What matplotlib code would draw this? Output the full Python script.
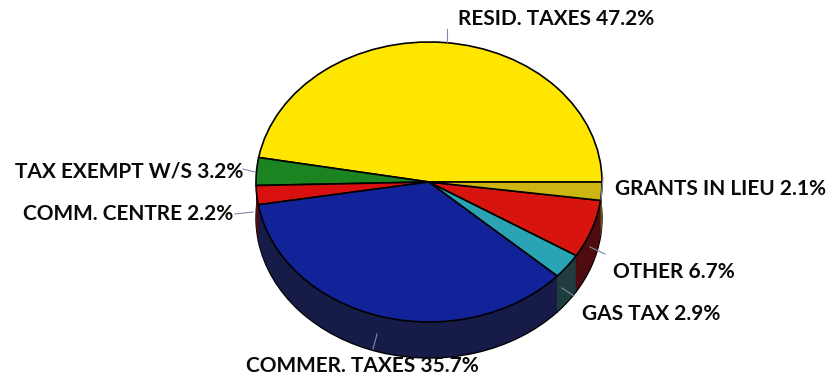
import matplotlib.pyplot as plt

# Data
labels = ["RESID. TAXES", "TAX EXEMPT W/S", "COMM. CENTRE", "COMMER. TAXES",
          "GAS TAX", "OTHER", "GRANTS IN LIEU"]
shares = [47.2, 3.2, 2.2, 35.7, 2.9, 6.7, 2.1]

top_colors = ["#ffe600", "#1b8420", "#d8100f", "#12239a", "#2aa3b4", "#d8140f", "#cdb512"]
side_colors = ["#7a6e00", "#0d3f10", "#5a0a0c", "#161b48", "#1f3c3e", "#4e0b10", "#6a5c0c"]

# label anchors in pixels (left x, centre y) and leader lines
label_pos = [(458, 19), (15, 172), (23, 214), (246, 366), (582, 314), (613, 272), (615, 189)]
leaders = [((447, 447), (29, 42)), ((243, 255), (169, 172)), ((235, 253), (214, 212)),
           ((373, 377), (349, 334)), ((562, 574), (288, 296)), ((590, 605), (247, 254)),
           ((603, 601), (178, 200))]

W, H = 826, 382
cx, cy = 429, 182       # pie centre in pixels
rx, ry = 173, 140       # ellipse radii in pixels
depth = 36
s = ry / rx             # vertical squash


def py(y):
    # pixel y (from top) -> data y
    return (H - y) / s


fig = plt.figure(figsize=(W / 100, H / 100), dpi=100)
ax = fig.add_axes([0, 0, 1, 1])

# side of the 3D pie: stack of darker pies going down
for d in range(depth, 0, -1):
    edge = "black" if d == depth else "none"
    ax.pie(shares, colors=side_colors, startangle=0, counterclock=True,
           radius=rx, center=(cx, py(cy + d)),
           wedgeprops=dict(edgecolor=edge, linewidth=1.0), frame=True)

# top face
ax.pie(shares, colors=top_colors, startangle=0, counterclock=True,
       radius=rx, center=(cx, py(cy)),
       wedgeprops=dict(edgecolor="black", linewidth=1.2), frame=True)

for (lx, ly), lab, v in zip(label_pos, labels, shares):
    ax.text(lx, py(ly), f"{lab} {v}%", ha="left", va="center",
            fontsize=15, fontweight="bold", family="Lato", color="#0a0a0a")

for xs, ys in leaders:
    ax.plot(xs, [py(y) for y in ys], color="#8088b0", lw=0.8)

ax.set_aspect("auto")
ax.set_xlim(0, W)
ax.set_ylim(0, H / s)
ax.axis("off")

plt.savefig("out.png", dpi=100)
